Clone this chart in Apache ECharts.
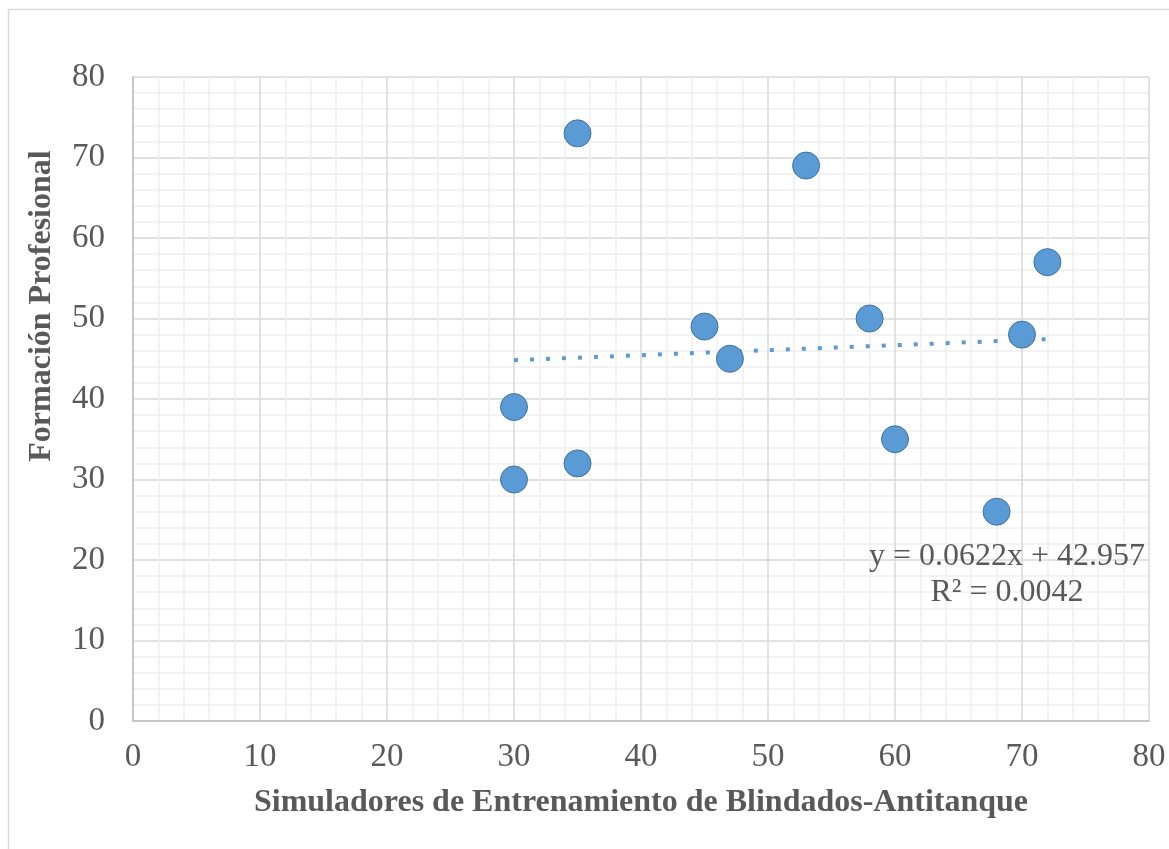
<!DOCTYPE html>
<html>
<head>
<meta charset="utf-8">
<script src="https://cdn.jsdelivr.net/npm/echarts@6/dist/echarts.min.js"></script>
<style>html,body{margin:0;padding:0;background:#fff;}#c{width:1169px;height:849px;}</style>
</head>
<body>
<div id="c"></div>
<script>
const xValues = [30, 30, 35, 35, 45, 47, 53, 58, 60, 68, 70, 72];
const yValues = [39, 30, 73, 32, 49, 45, 69, 50, 35, 26, 48, 57];
const trendSlope = 0.0622;
const trendIntercept = 42.957;
const trendRange = [30, 72];
const xTitle = 'Simuladores de Entrenamiento de Blindados-Antitanque';
const yTitle = 'Formación Profesional';
const eqText = 'y = 0.0622x + 42.957';
const r2Text = 'R² = 0.0042';

const points = xValues.map((x, i) => [x, yValues[i]]);
const trend = trendRange.map(x => [x, trendSlope * x + trendIntercept]);
const font = 'Liberation Serif';
const txt = '#595959';

const chart = echarts.init(document.getElementById('c'));
chart.setOption({
  animation: false,
  backgroundColor: '#fff',
  grid: {left: 133, top: 77, right: 20, bottom: 128, containLabel: false},
  xAxis: {
    type: 'value', min: 0, max: 80, interval: 10,
    name: xTitle, nameLocation: 'middle', nameGap: 66,
    nameTextStyle: {fontFamily: font, fontSize: 32, fontWeight: 'bold', color: txt},
    axisLine: {show: true, lineStyle: {color: '#bfbfbf', width: 1.5}},
    axisTick: {show: false},
    axisLabel: {fontFamily: font, fontSize: 33, color: txt, margin: 20},
    splitLine: {show: true, lineStyle: {color: '#d9d9d9', width: 1.5}},
    minorTick: {show: false, splitNumber: 5},
    minorSplitLine: {show: true, lineStyle: {color: '#f0f0f0', width: 1.5}}
  },
  yAxis: {
    type: 'value', min: 0, max: 80, interval: 10,
    axisLine: {show: true, lineStyle: {color: '#bfbfbf', width: 1.5}},
    axisTick: {show: false},
    axisLabel: {fontFamily: font, fontSize: 33, color: txt, margin: 28},
    splitLine: {show: true, lineStyle: {color: '#d9d9d9', width: 1.5}},
    minorTick: {show: false, splitNumber: 5},
    minorSplitLine: {show: true, lineStyle: {color: '#f0f0f0', width: 1.5}}
  },
  series: [
    {
      type: 'line', data: trend, symbol: 'none', z: 2,
      lineStyle: {color: '#5b9bd5', width: 4, type: [4, 12], cap: 'butt'}
    },
    {
      type: 'scatter', data: points, symbol: 'circle', symbolSize: 27, z: 3,
      itemStyle: {color: '#5b9bd5', borderColor: '#41719c', borderWidth: 1, opacity: 1}
    }
  ],
  graphic: [
    {type: 'rect', shape: {x: 8.5, y: 9.5, width: 1200, height: 900}, style: {fill: 'none', stroke: '#d9d9d9', lineWidth: 1.5}, silent: true, z: -1},
    {type: 'text', x: 42, y: 306, rotation: Math.PI / 2, style: {text: yTitle, font: 'bold 32px "Liberation Serif"', fill: txt, align: 'center', verticalAlign: 'middle'}, z: 10},
    {type: 'text', x: 1007, y: 557, style: {text: eqText, font: '32px "Liberation Serif"', fill: txt, align: 'center', verticalAlign: 'middle'}, z: 10},
    {type: 'text', x: 1007, y: 593, style: {text: r2Text, font: '32px "Liberation Serif"', fill: txt, align: 'center', verticalAlign: 'middle'}, z: 10}
  ]
});
</script>
</body>
</html>
